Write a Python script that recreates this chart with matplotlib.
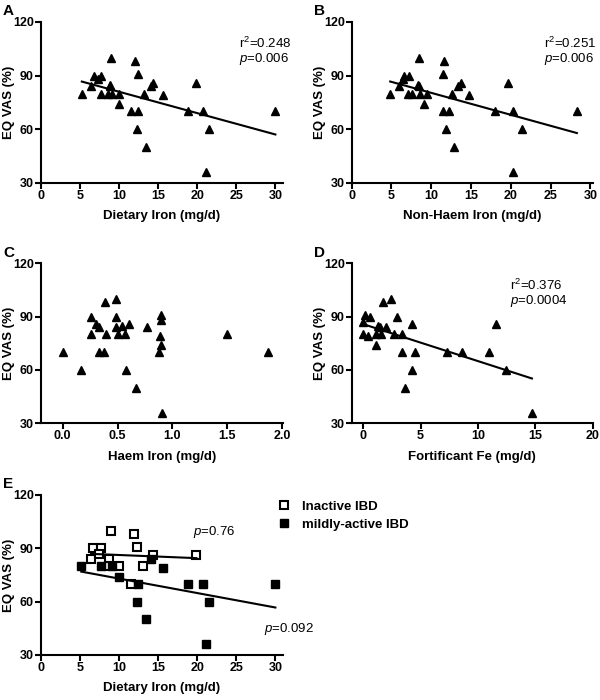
import numpy as np
import matplotlib
matplotlib.use('Agg')
import matplotlib.pyplot as plt

plt.rcParams['font.family'] = ['Liberation Sans', 'DejaVu Sans']
plt.rcParams['mathtext.fontset'] = 'custom'
plt.rcParams['mathtext.rm'] = 'Liberation Sans'
plt.rcParams['mathtext.it'] = 'Liberation Sans:italic'

# panel A: dietary iron vs EQ VAS
diet_iron = [5.25, 6.46, 6.75, 7.3, 7.7, 7.7, 8.95, 8.8, 8.9, 8.6, 9.1, 10.0, 10.0, 11.5,
             12.0, 12.4, 12.4, 12.35, 13.2, 13.5, 14.1, 14.4, 15.6, 18.85, 19.85, 20.7,
             21.1, 21.5, 30.0]
diet_vas = [80, 84, 90, 88, 90, 80, 100, 85, 84, 80, 80, 80, 74, 70,
            98, 91, 70, 60, 80, 50, 84, 86, 79, 70, 86, 70,
            36, 60, 70]

# panel B: non-haem iron
nonhaem_iron = [4.85, 5.98, 6.44, 6.52, 7.23, 7.1, 7.56, 8.44, 8.36, 8.44, 8.6, 9.1, 9.49, 11.5,
                11.6, 11.5, 12.2, 11.8, 12.66, 12.9, 13.4, 13.8, 14.8, 18.05, 19.6, 20.3,
                20.3, 21.35, 28.3]
nonhaem_vas = [80, 84, 88, 90, 90, 80, 80, 100, 85, 84, 80, 74, 80, 70,
               98, 91, 70, 60, 80, 50, 84, 86, 79, 70, 86, 70,
               36, 60, 70]

# panel C: haem iron
haem_iron = [0.0, 0.164, 0.256, 0.262, 0.30, 0.335, 0.33, 0.38, 0.384, 0.393, 0.484, 0.484,
             0.484, 0.536, 0.5, 0.572, 0.603, 0.58, 0.67, 0.767, 0.892, 0.895, 0.889, 0.9,
             0.877, 0.907, 1.498, 1.875]
haem_vas = [70, 60, 90, 80, 86, 84, 70, 70, 98, 80, 100, 90,
            84, 85, 80, 80, 86, 60, 50, 84, 91, 88, 79, 74,
            70, 36, 80, 70]

# panel D: fortificant Fe
fort_fe = [0.17, 0.64, 0.0, 0.0, 0.4, 1.13, 1.13, 1.3, 1.5, 1.57, 1.77, 2.03, 2.46, 2.67,
           2.96, 3.39, 3.39, 3.62, 4.29, 4.29, 4.49, 7.3, 8.6, 10.96, 11.57, 12.46, 14.7]
fort_vas = [91, 90, 87, 80, 79, 74, 80, 85, 84, 80, 98, 84, 100, 80,
            90, 80, 70, 50, 86, 60, 70, 70, 70, 70, 86, 60, 36]

# panel E: split by disease activity
inact_iron = [6.42, 6.68, 7.71, 7.4, 8.78, 8.7, 8.95, 9.98, 11.5, 11.92, 12.36, 13.08, 14.3, 19.9]
inact_vas = [84, 90, 90, 87, 84, 80, 100, 80, 70, 98, 91, 80, 86, 86]
act_iron = [5.17, 7.71, 9.1, 9.98, 12.49, 12.3, 13.5, 14.1, 15.6, 18.85, 20.7, 21.1, 21.5, 30.0]
act_vas = [80, 80, 80, 74, 70, 60, 50, 84, 79, 70, 70, 36, 60, 70]


def style_ax(ax, xlim, xticks, xticklabels, xlabel):
    ax.set_xlim(*xlim)
    ax.set_ylim(30, 120)
    ax.set_xticks(xticks)
    ax.set_xticklabels(xticklabels)
    ax.set_yticks([30, 60, 90, 120])
    for s in ['top', 'right']:
        ax.spines[s].set_visible(False)
    for s in ['left', 'bottom']:
        ax.spines[s].set_linewidth(1.5)
    ax.tick_params(width=1.5, length=4, labelsize=9, pad=1)
    for lab in ax.get_xticklabels() + ax.get_yticklabels():
        lab.set_fontweight('bold')
    ax.set_xlabel(xlabel, fontsize=9.5, fontweight='bold', labelpad=6)
    ax.set_ylabel('EQ VAS (%)', fontsize=9.5, fontweight='bold')
    ax.yaxis.set_label_coords(-0.108, 0.5)


def fit_line(ax, x, y):
    x = np.array(x)
    m, c = np.polyfit(x, y, 1)
    xs = np.array([x.min(), x.max()])
    ax.plot(xs, m * xs + c, color='black', lw=1.5)


fig = plt.figure(figsize=(6, 7), dpi=100)

axA = fig.add_axes([0.068, 0.7386, 0.404, 0.23])
axB = fig.add_axes([0.586, 0.7386, 0.402, 0.23])
axC = fig.add_axes([0.068, 0.3953, 0.404, 0.2286])
axD = fig.add_axes([0.586, 0.3953, 0.402, 0.2286])
axE = fig.add_axes([0.068, 0.0643, 0.404, 0.2286])

axA.plot(diet_iron, diet_vas, '^', color='black', ms=5.5)
fit_line(axA, diet_iron, diet_vas)
style_ax(axA, (0, 31), [0, 5, 10, 15, 20, 25, 30], ['0', '5', '10', '15', '20', '25', '30'],
         'Dietary Iron (mg/d)')
axA.text(25.4, 108, 'r$^2$=0.248', fontsize=9.5, va='center')
axA.text(25.4, 99.5, '$\\it{p}$=0.006', fontsize=9.5, va='center')

axB.plot(nonhaem_iron, nonhaem_vas, '^', color='black', ms=5.5)
fit_line(axB, nonhaem_iron, nonhaem_vas)
style_ax(axB, (0, 30.3), [0, 5, 10, 15, 20, 25, 30], ['0', '5', '10', '15', '20', '25', '30'],
         'Non-Haem Iron (mg/d)')
axB.text(24.2, 108, 'r$^2$=0.251', fontsize=9.5, va='center', clip_on=False)
axB.text(24.2, 99.5, '$\\it{p}$=0.006', fontsize=9.5, va='center', clip_on=False)

axC.plot(haem_iron, haem_vas, '^', color='black', ms=5.5)
style_ax(axC, (-0.2, 2.01), [0.0, 0.5, 1.0, 1.5, 2.0], ['0.0', '0.5', '1.0', '1.5', '2.0'],
         'Haem Iron (mg/d)')

axD.plot(fort_fe, fort_vas, '^', color='black', ms=5.5)
fit_line(axD, fort_fe, fort_vas)
style_ax(axD, (-1, 20), [0, 5, 10, 15, 20], ['0', '5', '10', '15', '20'],
         'Fortificant Fe (mg/d)')
axD.text(12.8, 107.5, 'r$^2$=0.376', fontsize=9.5, va='center')
axD.text(12.8, 98.5, '$\\it{p}$=0.0004', fontsize=9.5, va='center')

axE.plot(inact_iron, inact_vas, 's', mfc='white', mec='black', mew=1.5, ms=6,
         label='Inactive IBD')
axE.plot(act_iron, act_vas, 's', color='black', ms=6, label='mildly-active IBD')
fit_line(axE, inact_iron, inact_vas)
fit_line(axE, act_iron, act_vas)
style_ax(axE, (0, 31), [0, 5, 10, 15, 20, 25, 30], ['0', '5', '10', '15', '20', '25', '30'],
         'Dietary Iron (mg/d)')
axE.text(19.5, 99, '$\\it{p}$=0.76', fontsize=9.5, va='center')
axE.text(28.5, 44.5, '$\\it{p}$=0.092', fontsize=9.5, va='center', clip_on=False)
leg = axE.legend(loc='upper left', bbox_to_anchor=(0.95, 1.0), frameon=False,
                 handlelength=1.0, handletextpad=0.8, borderaxespad=0, labelspacing=0.35)
for t in leg.get_texts():
    t.set_fontweight('bold')
    t.set_fontsize(9.5)

for ax, lab in [(axA, 'A'), (axB, 'B'), (axC, 'C'), (axD, 'D'), (axE, 'E')]:
    bb = ax.get_position()
    fig.text(bb.x0 - 0.063, bb.y1 + 0.015, lab, fontsize=11, fontweight='bold', va='center')

plt.savefig('out.png')
